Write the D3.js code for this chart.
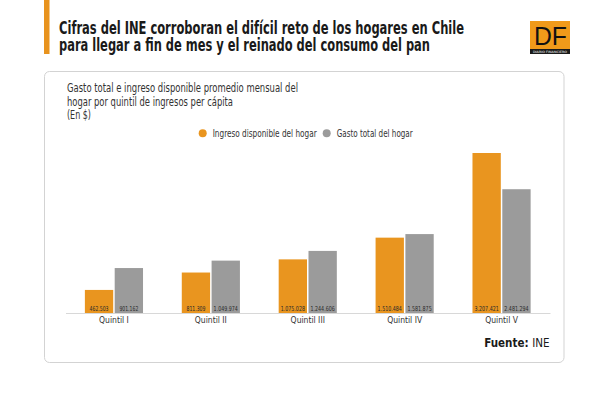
<!DOCTYPE html>
<html>
<head>
<meta charset="utf-8">
<script src="https://cdn.jsdelivr.net/npm/d3@7"></script>
<style>
  html, body { margin: 0; padding: 0; background: #fff; }
  svg { display: block; }
  text { font-family: "Liberation Sans Narrow", "DejaVu Sans Condensed", sans-serif; }
</style>
</head>
<body>
<script>
(function () {
    "use strict";

    // data
    var categories = ["Quintil I", "Quintil II", "Quintil III", "Quintil IV", "Quintil V"];
    var seriesNames = ["Ingreso disponible del hogar", "Gasto total del hogar"];
    var ingreso = [462503, 811309, 1075028, 1510484, 3207421];
    var gasto = [901162, 1049974, 1244606, 1581875, 2481294];
    var seriesColors = ["#e9951f", "#9b9b9b"];

    var titleLines = [
        "Cifras del INE corroboran el difícil reto de los hogares en Chile",
        "para llegar a fin de mes y el reinado del consumo del pan"
    ];
    var subtitleLines = [
        "Gasto total e ingreso disponible promedio mensual del",
        "hogar por quintil de ingresos per cápita",
        "(En $)"
    ];

    var W = 600, H = 394;
    var es = d3.formatLocale({ decimal: ",", thousands: ".", grouping: [3], currency: ["$", ""] });
    var fmt = es.format(",d");

    var rows = categories.map(function (c, i) {
        return { cat: c, values: [ingreso[i], gasto[i]] };
    });

    var svg = d3.select("body").append("svg")
        .attr("width", W)
        .attr("height", H);

    // helper: text fitted to a measured width
    function fitText(sel, str, x, y, size, width, weight) {
        return sel.append("text")
            .attr("x", x)
            .attr("y", y)
            .attr("font-size", size)
            .attr("font-weight", weight || "normal")
            .attr("textLength", width)
            .attr("lengthAdjust", "spacingAndGlyphs")
            .text(str);
    }

    // header
    svg.append("rect")
        .attr("x", 44).attr("y", 0)
        .attr("width", 5.5).attr("height", 54)
        .attr("fill", "#e8931e");

    var titleWidths = [405, 371];
    titleLines.forEach(function (t, i) {
        fitText(svg, t, 59, 34 + i * 16.5, 17.5, titleWidths[i], "bold")
            .attr("fill", "#1a1a1a");
    });

    // DF logo
    var logo = svg.append("g").attr("transform", "translate(530,21)");
    logo.append("rect").attr("width", 40).attr("height", 33).attr("fill", "#f09a1a");
    logo.append("rect").attr("y", 28).attr("width", 40).attr("height", 5).attr("fill", "#1a1a1a");
    logo.append("text")
        .attr("x", 4).attr("y", 23.5)
        .attr("font-size", 26)
        .attr("textLength", 33)
        .attr("lengthAdjust", "spacingAndGlyphs")
        .style("font-family", "'Liberation Sans', Arial, sans-serif")
        .attr("fill", "#111")
        .text("DF");
    logo.append("text")
        .attr("x", 3).attr("y", 32.4)
        .attr("font-size", 3)
        .attr("textLength", 34)
        .attr("lengthAdjust", "spacingAndGlyphs")
        .attr("fill", "#fff")
        .text("DIARIO FINANCIERO");

    // card
    svg.append("rect")
        .attr("x", 44.5).attr("y", 71.5)
        .attr("width", 519.5).attr("height", 291)
        .attr("rx", 5)
        .attr("fill", "#fff")
        .attr("stroke", "#d3d3d3")
        .attr("stroke-width", 1);

    var subWidths = [231, 166, 24];
    subtitleLines.forEach(function (t, i) {
        fitText(svg, t, 67, 92 + i * 13.5, 12, subWidths[i])
            .attr("fill", "#333");
    });

    // legend
    var legendX = [202.7, 326.7];
    var legendW = [104, 76];
    var legend = svg.append("g").attr("class", "legend");
    seriesNames.forEach(function (name, i) {
        legend.append("circle")
            .attr("cx", legendX[i]).attr("cy", 133.3)
            .attr("r", 4)
            .attr("fill", seriesColors[i]);
        fitText(legend, name, legendX[i] + 10, 137, 10.5, legendW[i])
            .attr("fill", "#333");
    });

    // scales
    var x0 = d3.scaleBand()
        .domain(categories)
        .range([65.5, 550])
        .paddingInner(0.4)
        .paddingOuter(0.2);

    var x1 = d3.scaleBand()
        .domain([0, 1])
        .range([0, x0.bandwidth()])
        .paddingInner(0.05);

    var y = d3.scaleLinear()
        .domain([0, d3.max(ingreso.concat(gasto))])
        .range([313, 153]);

    // bars
    var groups = svg.append("g").attr("class", "bars")
        .selectAll("g")
        .data(rows)
        .enter()
        .append("g")
        .attr("transform", function (d) { return "translate(" + x0(d.cat) + ",0)"; });

    var cells = groups.selectAll("g")
        .data(function (d) { return d.values.map(function (v, i) { return { s: i, v: v }; }); })
        .enter()
        .append("g");

    cells.append("rect")
        .attr("x", function (d) { return x1(d.s); })
        .attr("y", function (d) { return y(d.v); })
        .attr("width", x1.bandwidth())
        .attr("height", function (d) { return y(0) - y(d.v); })
        .attr("fill", function (d) { return seriesColors[d.s]; });

    // value labels, squeezed like the condensed face of the original
    cells.append("text")
        .attr("x", function (d) { return x1(d.s) + x1.bandwidth() / 2; })
        .attr("y", y(0) - 2.5)
        .attr("text-anchor", "middle")
        .attr("font-size", 6.8)
        .attr("textLength", function (d) { return fmt(d.v).length * 2.7; })
        .attr("lengthAdjust", "spacingAndGlyphs")
        .attr("fill", "#2b2b2b")
        .text(function (d) { return fmt(d.v); });

    // x axis
    var axis = svg.append("g")
        .attr("transform", "translate(0," + y(0) + ")")
        .call(d3.axisBottom(x0).tickSize(0).tickPadding(3.5).tickSizeOuter(0));
    axis.select(".domain").attr("stroke", "#d8d8d8");
    axis.selectAll("text")
        .attr("font-size", 8.5)
        .attr("fill", "#333")
        .style("font-family", "'Liberation Sans Narrow', 'DejaVu Sans Condensed', sans-serif");

    // source
    var src = svg.append("text")
        .attr("x", 549.5).attr("y", 347)
        .attr("text-anchor", "end")
        .attr("font-size", 11.5)
        .attr("fill", "#1a1a1a");
    src.append("tspan").attr("font-weight", "bold").text("Fuente: ");
    src.append("tspan").text("INE");
}());
</script>
</body>
</html>
